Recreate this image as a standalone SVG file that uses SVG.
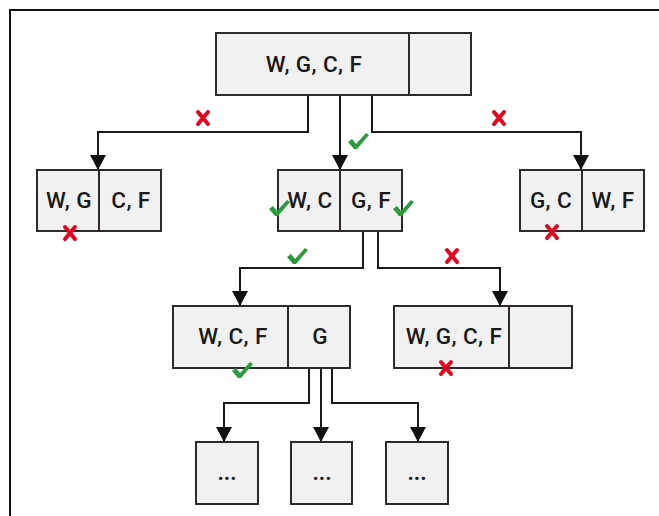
<svg xmlns="http://www.w3.org/2000/svg" width="659" height="516" viewBox="0 0 659 516">
  <style>
    .box { fill: #f1f1f1; stroke: #2e2a2a; stroke-width: 2; }
    .div { stroke: #2e2a2a; stroke-width: 2; fill: none; }
    .lbl { font-family: Roboto, "Liberation Sans", sans-serif; font-weight: 500; font-size: 22.5px; letter-spacing: 0.4px; fill: #1a1a1a; text-anchor: middle; }
    .dots { font-family: Roboto, "Liberation Sans", sans-serif; font-weight: 700; font-size: 22px; fill: #1a1a1a; text-anchor: middle; }
    .edge { stroke: #1a1a1a; stroke-width: 2; fill: none; marker-end: url(#arrow); }
    .cross { stroke: #e0061f; stroke-width: 4; stroke-linecap: round; fill: none; }
    .tick { fill: #2a9a3c; }
  </style>
  <defs>
    <marker id="arrow" markerWidth="16" markerHeight="16" refX="15" refY="8" orient="auto" markerUnits="userSpaceOnUse">
      <path d="M0,0 L15,8 L0,16 Z" fill="#111"/>
    </marker>
    <g id="x"><path class="cross" d="M-5,-6 L5,6 M5,-6 L-5,6"/></g>
    <g id="ok"><path class="tick" d="M-10,1 L-6,-2 L-2,3 L8,-8 L11,-6 L-1,8 L-4,8 Z"/></g>
  </defs>

  <!-- frame -->
  <path d="M10,516 L10,10 L659,10" fill="none" stroke="#111" stroke-width="2"/>

  <!-- connectors -->
  <g id="connectors">
    <path class="edge" d="M308,95 V132 H98 V170"/>
    <path class="edge" d="M340,95 V170"/>
    <path class="edge" d="M372,95 V132 H581 V170"/>
    <path class="edge" d="M363,231 V268 H240 V306"/>
    <path class="edge" d="M378,231 V268 H500 V306"/>
    <path class="edge" d="M309,368 V403 H224 V442"/>
    <path class="edge" d="M321,368 V442"/>
    <path class="edge" d="M332,368 V403 H418 V442"/>
  </g>

  <!-- nodes -->
  <g id="root">
    <rect class="box" x="216" y="33" width="255" height="62"/>
    <line class="div" x1="409" y1="33" x2="409" y2="95"/>
    <text class="lbl" x="314" y="72">W, G, C, F</text>
  </g>
  <g id="wg-cf">
    <rect class="box" x="37" y="170" width="124" height="61"/>
    <line class="div" x1="99" y1="170" x2="99" y2="231"/>
    <text class="lbl" x="69" y="208">W, G</text>
    <text class="lbl" x="131" y="208">C, F</text>
  </g>
  <g id="wc-gf">
    <rect class="box" x="278" y="170" width="124" height="61"/>
    <line class="div" x1="340" y1="170" x2="340" y2="231"/>
    <text class="lbl" x="310" y="208">W, C</text>
    <text class="lbl" x="371" y="208">G, F</text>
  </g>
  <g id="gc-wf">
    <rect class="box" x="520" y="170" width="124" height="61"/>
    <line class="div" x1="582" y1="170" x2="582" y2="231"/>
    <text class="lbl" x="551" y="208">G, C</text>
    <text class="lbl" x="613" y="208">W, F</text>
  </g>
  <g id="wcf-g">
    <rect class="box" x="173" y="306" width="177" height="62"/>
    <line class="div" x1="288" y1="306" x2="288" y2="368"/>
    <text class="lbl" x="233" y="344">W, C, F</text>
    <text class="lbl" x="320" y="344">G</text>
  </g>
  <g id="wgcf-back">
    <rect class="box" x="394" y="306" width="178" height="62"/>
    <line class="div" x1="509" y1="306" x2="509" y2="368"/>
    <text class="lbl" x="454" y="344">W, G, C, F</text>
  </g>
  <g id="next-1">
    <rect class="box" x="196" y="442" width="62" height="62"/>
    <text class="dots" x="227" y="480">...</text>
  </g>
  <g id="next-2">
    <rect class="box" x="291" y="442" width="61" height="62"/>
    <text class="dots" x="322" y="480">...</text>
  </g>
  <g id="next-3">
    <rect class="box" x="386" y="442" width="62" height="62"/>
    <text class="dots" x="417" y="480">...</text>
  </g>

  <!-- verdict marks -->
  <g id="marks">
    <use href="#x" x="203" y="118"/>
    <use href="#x" x="499" y="118"/>
    <use href="#ok" x="358" y="141"/>
    <use href="#x" x="70" y="233"/>
    <use href="#ok" x="279" y="208"/>
    <use href="#ok" x="403" y="208"/>
    <use href="#ok" x="297" y="256"/>
    <use href="#x" x="452" y="256"/>
    <use href="#x" x="552" y="232"/>
    <use href="#ok" x="242" y="370"/>
    <use href="#x" x="446" y="368"/>
  </g>
</svg>
